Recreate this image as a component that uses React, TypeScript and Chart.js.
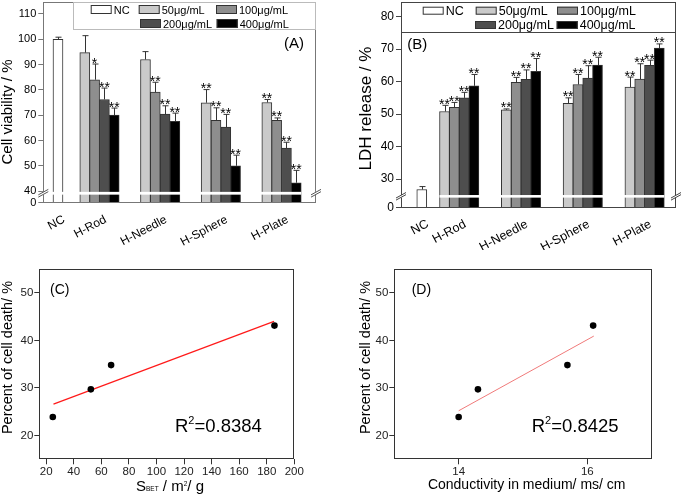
import React, { useEffect, useRef } from 'react';
import { Chart, registerables } from 'chart.js';
Chart.register(...registerables);

const FONT = "'Liberation Sans', Arial, Helvetica, sans-serif";

// ---------- shared categories ----------
const xLabels = ['NC', 'H-Rod', 'H-Needle', 'H-Sphere', 'H-Plate'];
const doseLabels = ['50μg/mL', '100μg/mL', '200μg/mL', '400μg/mL'];
const ncLabel = 'NC';
const ncColor = '#ffffff';
const doseColors = ['#cacaca', '#8e8e8e', '#4e4e4e', '#000000'];

// ---------- panel A: cell viability (%) ----------
const viabNC = [100.0];
const viabNCErr = [0.8];
const viab50 = [94.7, 92.0, 74.9, 75.0];
const viab100 = [84.0, 79.1, 68.0, 68.0];
const viab200 = [76.2, 70.4, 65.3, 57.0];
const viab400 = [70.0, 67.6, 50.0, 43.3];
const viab50Err = [6.7, 3.1, 5.2, 1.2];
const viab100Err = [6.2, 3.9, 4.9, 0.9];
const viab200Err = [4.5, 3.3, 5.0, 2.3];
const viab400Err = [2.8, 3.2, 4.2, 4.9];
const viab50Sig = ['', '', '**', '**'];
const viab100Sig = ['*', '**', '**', '**'];
const viab200Sig = ['**', '**', '**', '**'];
const viab400Sig = ['**', '**', '**', '**'];
const yTicksA = [40, 50, 60, 70, 80, 90, 100, 110];
const yBreakLabelA = '0';

// ---------- panel B: LDH release (%) ----------
const ldhNC = [26.8];
const ldhNCErr = [0.9];
const ldh50 = [50.8, 51.3, 53.3, 58.3];
const ldh100 = [52.1, 59.8, 59.1, 60.8];
const ldh200 = [55.0, 60.7, 61.1, 65.0];
const ldh400 = [58.7, 63.2, 65.1, 70.3];
const ldh50Err = [1.9, 0.3, 1.7, 3.1];
const ldh100Err = [1.5, 1.5, 3.1, 4.7];
const ldh200Err = [1.7, 2.9, 3.8, 1.6];
const ldh400Err = [3.5, 3.9, 2.4, 1.3];
const ldhSig = ['**', '**', '**', '**'];
const yTicksB = [30, 40, 50, 60, 70, 80];
const yBreakLabelB = '0';

// ---------- panel C / D: correlation ----------
const cellDeath = [23.9, 29.7, 34.8, 43.1];
const sbet = [24.8, 52.4, 67.1, 185.6];
const fitCx = [25.3, 185.3];
const fitCy = [26.6, 44.0];
const r2C = '0.8384';
const xTicksC = [20, 40, 60, 80, 100, 120, 140, 160, 180, 200];
const conductivity = [14.0, 14.3, 15.69, 16.09];
const fitDx = [14.0, 16.1];
const fitDy = [25.2, 40.9];
const r2D = '0.8425';
const xTicksD = [14, 16];
const yTicksCD = [20, 30, 40, 50];

// ---------- layout config (positions on the linear x scales) ----------
const catPosA = [0.316, 1, 2, 3, 4];
const catPosB = [0.394, 1, 2, 3, 4];
const barStepA = 0.1615;
const barStepB = 0.1586;

// ---------- plugins ----------
function framePlugin(color: string) {
  return {
    id: 'frame',
    afterDatasetsDraw(chart: any) {
      const { ctx, chartArea: a } = chart;
      ctx.save();
      ctx.strokeStyle = color;
      ctx.lineWidth = 1;
      const l = Math.round(a.left) + 0.5, t = Math.round(a.top) + 0.5;
      const r = Math.round(a.right) - 0.5, b = Math.round(a.bottom) - 0.5;
      ctx.strokeRect(l, t, r - l, b - t);
      ctx.restore();
    },
  };
}

function errorBarPlugin(cfg: { color: string; cap: number; starSize: number; starDy: number }) {
  return {
    id: 'errorBars',
    afterDatasetsDraw(chart: any) {
      const { ctx } = chart;
      const yS = chart.scales.y;
      chart.data.datasets.forEach((ds: any, i: number) => {
        const meta = chart.getDatasetMeta(i);
        meta.data.forEach((el: any, j: number) => {
          const v = ds.data[j].y;
          const e = ds.errors[j];
          const yTop = yS.getPixelForValue(v + e);
          const x = Math.round(el.x) + 0.5;
          ctx.save();
          ctx.strokeStyle = cfg.color;
          ctx.lineWidth = 1;
          ctx.beginPath();
          ctx.moveTo(x, el.y);
          ctx.lineTo(x, yTop);
          ctx.moveTo(x - cfg.cap, yTop);
          ctx.lineTo(x + cfg.cap, yTop);
          ctx.stroke();
          const s = ds.sig[j];
          if (s) {
            ctx.fillStyle = '#000';
            ctx.font = `${cfg.starSize}px ${FONT}`;
            ctx.textAlign = 'center';
            ctx.textBaseline = 'alphabetic';
            ctx.fillText(s, el.x, yTop + cfg.starDy);
          }
          ctx.restore();
        });
      });
    },
  };
}

function breakPlugin(cfg: { hi: number; lo: number; fromAxis: boolean; color: string }) {
  return {
    id: 'axisBreak',
    afterDraw(chart: any) {
      const { ctx, chartArea: a } = chart;
      const yS = chart.scales.y;
      const y1 = yS.getPixelForValue(cfg.hi);
      const y2 = yS.getPixelForValue(cfg.lo);
      const n = chart.data.datasets.length;
      const lastEls = chart.getDatasetMeta(n - 1).data;
      const lastEl = lastEls[lastEls.length - 1];
      const firstEl = chart.getDatasetMeta(1).data[0];
      const x1 = cfg.fromAxis ? a.left : firstEl.x - firstEl.width / 2;
      const x2 = lastEl.x + lastEl.width / 2;
      ctx.save();
      ctx.fillStyle = '#fff';
      ctx.fillRect(x1, y1, x2 - x1, y2 - y1);
      ctx.strokeStyle = cfg.color;
      ctx.lineWidth = 1;
      [a.left, a.right].forEach((ax: number) => {
        ctx.fillRect(ax - 2, y1, 4, y2 - y1);
        ctx.beginPath();
        ctx.moveTo(ax - 5, y1 + 3);
        ctx.lineTo(ax + 5, y1 - 2.5);
        ctx.moveTo(ax - 5, y2 + 2.5);
        ctx.lineTo(ax + 5, y2 - 3);
        ctx.stroke();
      });
      ctx.restore();
    },
  };
}

function legendPlugin(cfg: {
  box: number[]; boxColor: string; items: { i: number; x: number; y: number }[];
  sw: number; sh: number; size: number; gap: number;
}) {
  return {
    id: 'boxLegend',
    afterDraw(chart: any) {
      const { ctx } = chart;
      const [bx1, by1, bx2, by2] = cfg.box;
      ctx.save();
      ctx.fillStyle = '#fff';
      ctx.fillRect(bx1, by1, bx2 - bx1, by2 - by1);
      ctx.strokeStyle = cfg.boxColor;
      ctx.lineWidth = 1;
      ctx.strokeRect(bx1 + 0.5, by1 + 0.5, bx2 - bx1 - 1, by2 - by1 - 1);
      ctx.font = `${cfg.size}px ${FONT}`;
      ctx.textAlign = 'left';
      ctx.textBaseline = 'alphabetic';
      cfg.items.forEach((it) => {
        const ds = chart.data.datasets[it.i];
        ctx.fillStyle = ds.backgroundColor;
        ctx.fillRect(it.x, it.y, cfg.sw, cfg.sh);
        ctx.strokeStyle = '#333';
        ctx.strokeRect(it.x + 0.5, it.y + 0.5, cfg.sw - 1, cfg.sh - 1);
        ctx.fillStyle = '#000';
        ctx.fillText(ds.label, it.x + cfg.sw + cfg.gap, it.y + cfg.sh);
      });
      ctx.restore();
    },
  };
}

type Seg = { t: string; size: number; dy?: number };
type TextItem = { x: number; y: number; rot?: number; align?: 'left' | 'center'; baseline?: string; segs: Seg[]; color?: string };

function textPlugin(items: TextItem[]) {
  return {
    id: 'texts',
    afterDraw(chart: any) {
      const { ctx } = chart;
      items.forEach((it) => {
        ctx.save();
        ctx.translate(it.x, it.y);
        if (it.rot) ctx.rotate((it.rot * Math.PI) / 180);
        const widths = it.segs.map((s) => {
          ctx.font = `${s.size}px ${FONT}`;
          return ctx.measureText(s.t).width;
        });
        const total = widths.reduce((p, c) => p + c, 0);
        let x = it.align === 'center' ? -total / 2 : 0;
        ctx.textAlign = 'left';
        ctx.textBaseline = it.baseline || 'alphabetic';
        ctx.fillStyle = it.color || '#000';
        it.segs.forEach((s, k) => {
          ctx.font = `${s.size}px ${FONT}`;
          ctx.fillText(s.t, x, -(s.dy || 0));
          x += widths[k];
        });
        ctx.restore();
      });
    },
  };
}

// ---------- dataset builders ----------
function barSets(
  ncVal: number[], ncErr: number[], series: number[][], errs: number[][], sigs: string[][],
  pos: number[], step: number,
) {
  const sets: any[] = [
    {
      label: ncLabel,
      data: [{ x: pos[0], y: ncVal[0] }],
      backgroundColor: ncColor,
      errors: ncErr,
      sig: [''],
    },
  ];
  series.forEach((vals, k) => {
    sets.push({
      label: doseLabels[k],
      data: vals.map((y, j) => ({ x: pos[j + 1] + (k - 1.5) * step, y })),
      backgroundColor: doseColors[k],
      errors: errs[k],
      sig: sigs[k],
    });
  });
  return sets;
}

function barConfig(o: {
  sets: any[]; pos: number[]; xMin: number; xMax: number; yMin: number; yMax: number; yTicks: number[];
  breakLabel: string; padRight: number; yWidth: number; xHeight: number; axisColor: string;
  yFont: number; xFont: number; xPad: number; xOffset: number; plugins: any[];
}) {
  return {
    type: 'bar',
    data: { datasets: o.sets },
    plugins: o.plugins,
    options: {
      responsive: true,
      maintainAspectRatio: false,
      animation: false,
      events: [],
      layout: { padding: { left: 0, top: 2, right: o.padRight, bottom: 0 } },
      plugins: { legend: { display: false }, tooltip: { enabled: false } },
      datasets: { bar: { grouped: false, barThickness: 10, borderWidth: 1, borderColor: '#333' } },
      scales: {
        x: {
          type: 'linear',
          min: o.xMin,
          max: o.xMax,
          offset: false,
          afterBuildTicks: (s: any) => { s.ticks = o.pos.map((value) => ({ value })); },
          afterFit: (s: any) => { s.height = o.xHeight; s.paddingLeft = 0; s.paddingRight = 0; },
          grid: { display: false, drawTicks: false, offset: false },
          border: { display: false },
          ticks: {
            autoSkip: false, minRotation: 28, maxRotation: 28, padding: o.xPad, labelOffset: o.xOffset,
            color: '#000', font: { family: FONT, size: o.xFont },
            callback: (_v: any, i: number) => xLabels[i],
          },
        },
        y: {
          type: 'linear',
          min: o.yMin,
          max: o.yMax,
          afterBuildTicks: (s: any) => { s.ticks = [o.yMin, ...o.yTicks].map((value) => ({ value })); },
          afterFit: (s: any) => { s.width = o.yWidth; s.paddingTop = 0; s.paddingBottom = 0; },
          grid: { drawOnChartArea: false, drawTicks: true, tickLength: 5, color: o.axisColor },
          border: { display: false },
          ticks: {
            padding: 2, color: '#000', font: { family: FONT, size: o.yFont },
            callback: (v: number) => (v === o.yMin ? o.breakLabel : String(v)),
          },
        },
      },
    },
  };
}

function scatterConfig(o: {
  xs: number[]; ys: number[]; fx: number[]; fy: number[]; lineColor: string; lineWidth: number;
  xMin: number; xMax: number; xTicks: number[]; padRight: number; yWidth: number; plugins: any[];
}) {
  return {
    type: 'scatter',
    data: {
      datasets: [
        {
          label: 'data',
          data: o.xs.map((x, i) => ({ x, y: o.ys[i] })),
          backgroundColor: '#000',
          borderWidth: 0,
          pointRadius: 3.3,
        },
        {
          type: 'line',
          label: 'fit',
          data: o.fx.map((x, i) => ({ x, y: o.fy[i] })),
          borderColor: o.lineColor,
          borderWidth: o.lineWidth,
          pointRadius: 0,
          fill: false,
        },
      ],
    },
    plugins: o.plugins,
    options: {
      responsive: true,
      maintainAspectRatio: false,
      animation: false,
      events: [],
      layout: { padding: { left: 0, top: 19, right: o.padRight, bottom: 0 } },
      plugins: { legend: { display: false }, tooltip: { enabled: false } },
      scales: {
        x: {
          type: 'linear',
          min: o.xMin,
          max: o.xMax,
          afterBuildTicks: (s: any) => { s.ticks = o.xTicks.map((value) => ({ value })); },
          afterFit: (s: any) => { s.height = 36.7; s.paddingLeft = 0; s.paddingRight = 0; },
          grid: { drawOnChartArea: false, tickLength: 5, color: '#333' },
          border: { display: false },
          ticks: { padding: 1, color: '#222', font: { family: FONT, size: 11.5 }, maxRotation: 0 },
        },
        y: {
          type: 'linear',
          min: 15,
          max: 55,
          afterBuildTicks: (s: any) => { s.ticks = yTicksCD.map((value) => ({ value })); },
          afterFit: (s: any) => { s.width = o.yWidth; s.paddingTop = 0; s.paddingBottom = 0; },
          grid: { drawOnChartArea: false, tickLength: 5, color: '#333' },
          border: { display: false },
          ticks: { padding: 1, color: '#222', font: { family: FONT, size: 11.5 } },
        },
      },
    },
  };
}

// ---------- configs ----------
function makeA() {
  const sets = barSets(viabNC, viabNCErr, [viab50, viab100, viab200, viab400],
    [viab50Err, viab100Err, viab200Err, viab400Err], [viab50Sig, viab100Sig, viab200Sig, viab400Sig], catPosA, barStepA);
  return barConfig({
    sets, pos: catPosA, xMin: 0.074, xMax: 4.568, yMin: 35.5, yMax: 114.7, yTicks: yTicksA,
    breakLabel: yBreakLabelA, padRight: 24, yWidth: 43.3, xHeight: 47.5, axisColor: '#777',
    yFont: 11, xFont: 12, xPad: 10, xOffset: 6,
    plugins: [
      framePlugin('#777'),
      errorBarPlugin({ color: '#333', cap: 3, starSize: 14, starDy: 3.5 }),
      legendPlugin({
        box: [73, 2, 316, 30], boxColor: '#bbb', sw: 21, sh: 9, size: 11, gap: 2,
        items: [
          { i: 0, x: 90.7, y: 5 }, { i: 1, x: 138.7, y: 5 }, { i: 2, x: 216, y: 5 },
          { i: 3, x: 140, y: 19 }, { i: 4, x: 216.7, y: 19 },
        ],
      }),
      breakPlugin({ hi: 39.7, lo: 38.6, fromAxis: true, color: '#555' }),
      textPlugin([
        { x: 284, y: 47.5, segs: [{ t: '(A)', size: 15 }] },
        { x: 7.5, y: 112, rot: -90, align: 'center', baseline: 'middle', segs: [{ t: 'Cell viability / %', size: 15 }] },
      ]),
    ],
  });
}

function makeB() {
  const sets = barSets(ldhNC, ldhNCErr, [ldh50, ldh100, ldh200, ldh400],
    [ldh50Err, ldh100Err, ldh200Err, ldh400Err], [ldhSig, ldhSig, ldhSig, ldhSig], catPosB, barStepB);
  return barConfig({
    sets, pos: catPosB, xMin: 0.058, xMax: 4.508, yMin: 21.2, yMax: 84.5, yTicks: yTicksB,
    breakLabel: yBreakLabelB, padRight: 9, yWidth: 61, xHeight: 42.3, axisColor: '#444',
    yFont: 12, xFont: 12.5, xPad: 9, xOffset: 6,
    plugins: [
      framePlugin('#444'),
      errorBarPlugin({ color: '#333', cap: 3, starSize: 14, starDy: 3.5 }),
      legendPlugin({
        box: [61, 2, 336, 33], boxColor: '#444', sw: 21, sh: 8, size: 12.5, gap: 2,
        items: [
          { i: 0, x: 82.7, y: 6.7 }, { i: 1, x: 135.7, y: 6.7 }, { i: 2, x: 217, y: 6.7 },
          { i: 3, x: 135, y: 21 }, { i: 4, x: 216.7, y: 21 },
        ],
      }),
      breakPlugin({ hi: 25.1, lo: 24.3, fromAxis: false, color: '#444' }),
      textPlugin([
        { x: 67.3, y: 49, segs: [{ t: '(B)', size: 15 }] },
        { x: 26.5, y: 108.5, rot: -90, align: 'center', baseline: 'middle', segs: [{ t: 'LDH release / %', size: 17 }] },
      ]),
    ],
  });
}

function makeC() {
  return scatterConfig({
    xs: sbet, ys: cellDeath, fx: fitCx, fy: fitCy, lineColor: '#ff1a1a', lineWidth: 1.2,
    xMin: 15, xMax: 200, xTicks: xTicksC, padRight: 45.7, yWidth: 39.3,
    plugins: [
      framePlugin('#333'),
      textPlugin([
        { x: 50, y: 44, segs: [{ t: '(C)', size: 14 }] },
        { x: 7.5, y: 107.5, rot: -90, align: 'center', baseline: 'middle', segs: [{ t: 'Percent of cell death/ %', size: 14.5 }] },
        {
          x: 170, y: 240.5, align: 'center',
          segs: [{ t: 'S', size: 15 }, { t: 'BET', size: 6.5 }, { t: ' / m', size: 15 }, { t: '2', size: 6.5, dy: 5 }, { t: '/ g', size: 15 }],
        },
        { x: 175, y: 181.5, segs: [{ t: 'R', size: 18.5 }, { t: '2', size: 11, dy: 7.5 }, { t: '=' + r2C, size: 18.5 }] },
      ]),
    ],
  });
}

function makeD() {
  return scatterConfig({
    xs: conductivity, ys: cellDeath, fx: fitDx, fy: fitDy, lineColor: '#f07a7a', lineWidth: 1,
    xMin: 13, xMax: 17, xTicks: xTicksD, padRight: 33.3, yWidth: 54.3,
    plugins: [
      framePlugin('#333'),
      textPlugin([
        { x: 71.7, y: 44, segs: [{ t: '(D)', size: 14 }] },
        { x: 25.8, y: 107.5, rot: -90, align: 'center', baseline: 'middle', segs: [{ t: 'Percent of cell death/ %', size: 14.5 }] },
        { x: 186.7, y: 239, align: 'center', segs: [{ t: 'Conductivity in medium/ ms/ cm', size: 14 }] },
        { x: 191.7, y: 181.5, segs: [{ t: 'R', size: 18.5 }, { t: '2', size: 11, dy: 7.5 }, { t: '=' + r2D, size: 18.5 }] },
      ]),
    ],
  });
}

function ChartBox({ left, top, width, height, make }: { left: number; top: number; width: number; height: number; make: () => any }) {
  const ref = useRef<HTMLCanvasElement>(null);
  useEffect(() => {
    const chart = new Chart(ref.current as HTMLCanvasElement, make());
    return () => chart.destroy();
  }, []);
  return (
    <div style={{ position: 'absolute', left, top, width, height }}>
      <canvas ref={ref} />
    </div>
  );
}

export default function App() {
  useEffect(() => {
    document.body.style.margin = '0';
  }, []);
  return (
    <div style={{ position: 'relative', width: 685, height: 496, background: '#fff', overflow: 'hidden' }}>
      <ChartBox left={0} top={0} width={340} height={250} make={makeA} />
      <ChartBox left={340} top={0} width={345} height={250} make={makeB} />
      <ChartBox left={0} top={250} width={340} height={246} make={makeC} />
      <ChartBox left={340} top={250} width={345} height={246} make={makeD} />
    </div>
  );
}
